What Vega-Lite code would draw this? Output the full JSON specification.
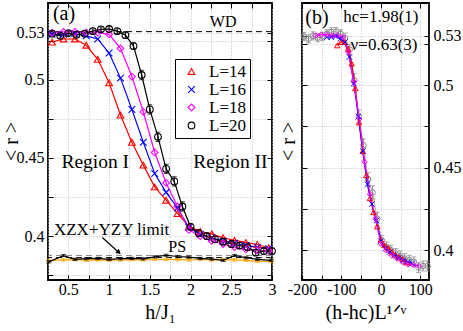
{
"$schema": "https://vega.github.io/schema/vega-lite/v6.json",
"background": "white",
"autosize": {"type": "none"},
"padding": {"left": 48, "top": 3, "right": 415, "bottom": 328},
"spacing": 30,
"bounds": "flush",
"config": {
  "font": "Liberation Serif",
  "view": {"stroke": "black", "strokeWidth": 1.8},
  "axis": {"domain": false, "labelFont": "Liberation Serif", "labelFontSize": 16, "labelColor": "black", "titleFont": "Liberation Serif", "titleFontWeight": "normal", "titleColor": "black", "titleFontSize": 20, "tickColor": "black", "tickSize": -5, "gridColor": "#bbbbbb", "gridDash": [1, 2], "labelFlush": false, "labelOverlap": false, "labelBound": false},
  "legend": {"labelFont": "Liberation Serif"},
  "text": {"font": "Liberation Serif", "color": "black"}
},
"datasets": {
  "series": [
    {"L":"L=14","h":0.30,"r":0.524},{"L":"L=14","h":0.44,"r":0.526},{"L":"L=14","h":0.58,"r":0.526},{"L":"L=14","h":0.72,"r":0.522},{"L":"L=14","h":0.86,"r":0.513},{"L":"L=14","h":1.00,"r":0.498},{"L":"L=14","h":1.14,"r":0.4774},{"L":"L=14","h":1.28,"r":0.460},{"L":"L=14","h":1.42,"r":0.4454},{"L":"L=14","h":1.56,"r":0.4315},{"L":"L=14","h":1.70,"r":0.423},{"L":"L=14","h":1.84,"r":0.4144},{"L":"L=14","h":1.98,"r":0.4063},{"L":"L=14","h":2.12,"r":0.403},{"L":"L=14","h":2.26,"r":0.4015},{"L":"L=14","h":2.40,"r":0.399},{"L":"L=14","h":2.54,"r":0.3973},{"L":"L=14","h":2.68,"r":0.396},{"L":"L=14","h":2.82,"r":0.3947},{"L":"L=14","h":2.96,"r":0.3926},
    {"L":"L=16","h":0.30,"r":0.529},{"L":"L=16","h":0.44,"r":0.529},{"L":"L=16","h":0.58,"r":0.5295},{"L":"L=16","h":0.72,"r":0.528},{"L":"L=16","h":0.86,"r":0.526},{"L":"L=16","h":1.00,"r":0.517},{"L":"L=16","h":1.14,"r":0.501},{"L":"L=16","h":1.28,"r":0.481},{"L":"L=16","h":1.42,"r":0.460},{"L":"L=16","h":1.56,"r":0.440},{"L":"L=16","h":1.70,"r":0.428},{"L":"L=16","h":1.84,"r":0.418},{"L":"L=16","h":1.98,"r":0.4055},{"L":"L=16","h":2.12,"r":0.401},{"L":"L=16","h":2.26,"r":0.399},{"L":"L=16","h":2.40,"r":0.397},{"L":"L=16","h":2.54,"r":0.3955},{"L":"L=16","h":2.68,"r":0.394},{"L":"L=16","h":2.82,"r":0.393},{"L":"L=16","h":2.96,"r":0.392},
    {"L":"L=18","h":0.30,"r":0.530},{"L":"L=18","h":0.44,"r":0.5305},{"L":"L=18","h":0.58,"r":0.5305},{"L":"L=18","h":0.72,"r":0.530},{"L":"L=18","h":0.86,"r":0.530},{"L":"L=18","h":1.00,"r":0.529},{"L":"L=18","h":1.14,"r":0.520},{"L":"L=18","h":1.28,"r":0.502},{"L":"L=18","h":1.42,"r":0.4795},{"L":"L=18","h":1.56,"r":0.4535},{"L":"L=18","h":1.70,"r":0.434},{"L":"L=18","h":1.84,"r":0.419},{"L":"L=18","h":1.98,"r":0.404},{"L":"L=18","h":2.12,"r":0.400},{"L":"L=18","h":2.26,"r":0.397},{"L":"L=18","h":2.40,"r":0.395},{"L":"L=18","h":2.54,"r":0.393},{"L":"L=18","h":2.68,"r":0.3915},{"L":"L=18","h":2.82,"r":0.391},{"L":"L=18","h":2.96,"r":0.3905},
    {"L":"L=20","h":0.3,"r":0.5294,"err":0.0015},{"L":"L=20","h":0.4,"r":0.528,"err":0.0015},{"L":"L=20","h":0.5,"r":0.5298,"err":0.0015},{"L":"L=20","h":0.6,"r":0.5287,"err":0.0015},{"L":"L=20","h":0.7,"r":0.5294,"err":0.0015},{"L":"L=20","h":0.8,"r":0.531,"err":0.0015},{"L":"L=20","h":0.9,"r":0.5322,"err":0.0015},{"L":"L=20","h":1.0,"r":0.5324,"err":0.0015},{"L":"L=20","h":1.1,"r":0.531,"err":0.0015},{"L":"L=20","h":1.2,"r":0.5285,"err":0.002},{"L":"L=20","h":1.3,"r":0.5215,"err":0.002},{"L":"L=20","h":1.4,"r":0.503,"err":0.003},{"L":"L=20","h":1.5,"r":0.481,"err":0.003},{"L":"L=20","h":1.6,"r":0.4635,"err":0.003},{"L":"L=20","h":1.7,"r":0.443,"err":0.003},{"L":"L=20","h":1.8,"r":0.435,"err":0.003},{"L":"L=20","h":1.9,"r":0.419,"err":0.003},{"L":"L=20","h":2.0,"r":0.406,"err":0.002},{"L":"L=20","h":2.1,"r":0.402,"err":0.002},{"L":"L=20","h":2.2,"r":0.400,"err":0.002},{"L":"L=20","h":2.3,"r":0.398,"err":0.002},{"L":"L=20","h":2.4,"r":0.3965,"err":0.002},{"L":"L=20","h":2.5,"r":0.395,"err":0.002},{"L":"L=20","h":2.6,"r":0.394,"err":0.002},{"L":"L=20","h":2.7,"r":0.393,"err":0.002},{"L":"L=20","h":2.8,"r":0.3895,"err":0.002},{"L":"L=20","h":2.9,"r":0.3905,"err":0.002},{"L":"L=20","h":3.0,"r":0.3905,"err":0.002}
  ],
  "bottom": [
    {"s":"limit","h":0.26,"r":0.3836,"err":0.0007},{"s":"limit","h":0.44,"r":0.3876,"err":0.0007},{"s":"limit","h":0.58,"r":0.3852,"err":0.0007},{"s":"limit","h":0.72,"r":0.3856,"err":0.0007},{"s":"limit","h":0.86,"r":0.3858,"err":0.0007},{"s":"limit","h":1.00,"r":0.3852,"err":0.0007},{"s":"limit","h":1.14,"r":0.3856,"err":0.0007},{"s":"limit","h":1.28,"r":0.3858,"err":0.0007},{"s":"limit","h":1.42,"r":0.3855,"err":0.0007},{"s":"limit","h":1.56,"r":0.3868,"err":0.0007},{"s":"limit","h":1.70,"r":0.3878,"err":0.0007},{"s":"limit","h":1.84,"r":0.3870,"err":0.0007},{"s":"limit","h":1.98,"r":0.3866,"err":0.0007},{"s":"limit","h":2.12,"r":0.3858,"err":0.0007},{"s":"limit","h":2.26,"r":0.3854,"err":0.0007},{"s":"limit","h":2.40,"r":0.3845,"err":0.0007},{"s":"limit","h":2.54,"r":0.3877,"err":0.0007},{"s":"limit","h":2.68,"r":0.3862,"err":0.0007},{"s":"limit","h":2.82,"r":0.3852,"err":0.0007},{"s":"limit","h":2.99,"r":0.3846,"err":0.0007},
    {"s":"other","h":0.26,"r":0.3843,"err":0.0008},{"s":"other","h":0.44,"r":0.3848,"err":0.0008},{"s":"other","h":0.58,"r":0.3850,"err":0.0008},{"s":"other","h":0.72,"r":0.3847,"err":0.0008},{"s":"other","h":0.86,"r":0.3849,"err":0.0008},{"s":"other","h":1.00,"r":0.3846,"err":0.0008},{"s":"other","h":1.14,"r":0.3848,"err":0.0008},{"s":"other","h":1.28,"r":0.3850,"err":0.0008},{"s":"other","h":1.42,"r":0.3849,"err":0.0008},{"s":"other","h":1.56,"r":0.3851,"err":0.0008},{"s":"other","h":1.70,"r":0.3852,"err":0.0008},{"s":"other","h":1.84,"r":0.3850,"err":0.0008},{"s":"other","h":1.98,"r":0.3849,"err":0.0008},{"s":"other","h":2.12,"r":0.3851,"err":0.0008},{"s":"other","h":2.26,"r":0.3848,"err":0.0008},{"s":"other","h":2.40,"r":0.3850,"err":0.0008},{"s":"other","h":2.54,"r":0.3849,"err":0.0008},{"s":"other","h":2.68,"r":0.3846,"err":0.0008},{"s":"other","h":2.82,"r":0.3840,"err":0.0008},{"s":"other","h":2.99,"r":0.3838,"err":0.0008}
  ],
  "refs": [
    {"name":"WD","r":0.5307},{"name":"XZX+YZY limit","r":0.3877},{"name":"PS","r":0.3863}
  ],
  "notesA": [
    {"role":"panel","text":"(a)","h":0.447,"r":0.5422},
    {"role":"note","text":"WD","h":2.40,"r":0.5367},
    {"role":"region","text":"Region I","h":0.83,"r":0.4475},
    {"role":"region","text":"Region II","h":2.49,"r":0.4475},
    {"role":"limit","text":"XZX+YZY limit","h":1.03,"r":0.4038},
    {"role":"note","text":"PS","h":1.836,"r":0.3932}
  ],
  "arrow": [{"h":0.917,"r":0.3992,"h2":1.12,"r2":0.3896}],
  "collapse": [
    {"L":"L=14","x":-110.8,"r":0.524},{"L":"L=14","x":-101.6,"r":0.526},{"L":"L=14","x":-92.4,"r":0.526},{"L":"L=14","x":-83.1,"r":0.522},{"L":"L=14","x":-73.9,"r":0.513},{"L":"L=14","x":-64.7,"r":0.498},{"L":"L=14","x":-55.4,"r":0.4774},{"L":"L=14","x":-46.2,"r":0.460},{"L":"L=14","x":-36.9,"r":0.4454},{"L":"L=14","x":-27.7,"r":0.4315},{"L":"L=14","x":-18.5,"r":0.423},{"L":"L=14","x":-9.2,"r":0.4144},{"L":"L=14","x":0,"r":0.4063},{"L":"L=14","x":9.2,"r":0.403},{"L":"L=14","x":18.5,"r":0.4015},{"L":"L=14","x":27.7,"r":0.399},{"L":"L=14","x":36.9,"r":0.3973},{"L":"L=14","x":46.2,"r":0.396},{"L":"L=14","x":55.4,"r":0.3947},{"L":"L=14","x":64.7,"r":0.3926},
    {"L":"L=16","x":-137.0,"r":0.529},{"L":"L=16","x":-125.6,"r":0.529},{"L":"L=16","x":-114.1,"r":0.5295},{"L":"L=16","x":-102.7,"r":0.528},{"L":"L=16","x":-91.3,"r":0.526},{"L":"L=16","x":-79.9,"r":0.517},{"L":"L=16","x":-68.5,"r":0.501},{"L":"L=16","x":-57.1,"r":0.481},{"L":"L=16","x":-45.7,"r":0.460},{"L":"L=16","x":-34.2,"r":0.440},{"L":"L=16","x":-22.8,"r":0.428},{"L":"L=16","x":-11.4,"r":0.418},{"L":"L=16","x":0,"r":0.4055},{"L":"L=16","x":11.4,"r":0.401},{"L":"L=16","x":22.8,"r":0.399},{"L":"L=16","x":34.2,"r":0.397},{"L":"L=16","x":45.7,"r":0.3955},{"L":"L=16","x":57.1,"r":0.394},{"L":"L=16","x":68.5,"r":0.393},{"L":"L=16","x":79.9,"r":0.392},
    {"L":"L=18","x":-165.1,"r":0.530},{"L":"L=18","x":-151.4,"r":0.5305},{"L":"L=18","x":-137.6,"r":0.5305},{"L":"L=18","x":-123.8,"r":0.530},{"L":"L=18","x":-110.1,"r":0.530},{"L":"L=18","x":-96.3,"r":0.529},{"L":"L=18","x":-82.6,"r":0.520},{"L":"L=18","x":-68.8,"r":0.502},{"L":"L=18","x":-55.0,"r":0.4795},{"L":"L=18","x":-41.3,"r":0.4535},{"L":"L=18","x":-27.5,"r":0.434},{"L":"L=18","x":-13.8,"r":0.419},{"L":"L=18","x":0,"r":0.404},{"L":"L=18","x":13.8,"r":0.400},{"L":"L=18","x":27.5,"r":0.397},{"L":"L=18","x":41.3,"r":0.395},{"L":"L=18","x":55.0,"r":0.393},{"L":"L=18","x":68.8,"r":0.3915},{"L":"L=18","x":82.6,"r":0.391},{"L":"L=18","x":96.3,"r":0.3905},
    {"L":"L=20","x":-195.2,"r":0.5294,"err":0.0025},{"L":"L=20","x":-183.5,"r":0.528,"err":0.0025},{"L":"L=20","x":-171.9,"r":0.5298,"err":0.0025},{"L":"L=20","x":-160.3,"r":0.5287,"err":0.0025},{"L":"L=20","x":-148.7,"r":0.5294,"err":0.0025},{"L":"L=20","x":-137.1,"r":0.531,"err":0.0025},{"L":"L=20","x":-125.5,"r":0.5322,"err":0.0025},{"L":"L=20","x":-113.8,"r":0.5324,"err":0.0025},{"L":"L=20","x":-102.2,"r":0.531,"err":0.0025},{"L":"L=20","x":-90.6,"r":0.5285,"err":0.003},{"L":"L=20","x":-79.0,"r":0.5215,"err":0.003},{"L":"L=20","x":-67.4,"r":0.503,"err":0.004},{"L":"L=20","x":-55.8,"r":0.481,"err":0.004},{"L":"L=20","x":-44.1,"r":0.4635,"err":0.004},{"L":"L=20","x":-32.5,"r":0.443,"err":0.004},{"L":"L=20","x":-20.9,"r":0.435,"err":0.004},{"L":"L=20","x":-9.3,"r":0.419,"err":0.004},{"L":"L=20","x":2.3,"r":0.406,"err":0.003},{"L":"L=20","x":13.9,"r":0.402,"err":0.003},{"L":"L=20","x":25.6,"r":0.400,"err":0.003},{"L":"L=20","x":37.2,"r":0.398,"err":0.003},{"L":"L=20","x":48.8,"r":0.3965,"err":0.003},{"L":"L=20","x":60.4,"r":0.395,"err":0.003},{"L":"L=20","x":72.0,"r":0.394,"err":0.003},{"L":"L=20","x":83.6,"r":0.393,"err":0.003},{"L":"L=20","x":95.3,"r":0.3895,"err":0.003},{"L":"L=20","x":106.9,"r":0.3905,"err":0.003},{"L":"L=20","x":118.5,"r":0.3905,"err":0.003}
  ],
  "notesB": [
    {"role":"panel","text":"(b)","x":-162,"r":0.5409},
    {"role":"note","text":"hc=1.98(1)","x":0,"r":0.541},
    {"role":"note","text":"ν=0.63(3)","x":8,"r":0.5242}
  ]
},
"resolve": {"scale": {"color": "independent", "shape": "independent"}},
"hconcat": [
  {
    "width": 224, "height": 277,
    "resolve": {"axis": {"x": "independent", "y": "independent"}},
    "layer": [
      {"data": {"name": "refs"}, "transform": [{"filter": "datum.name != 'XZX+YZY limit'"}], "mark": {"type": "rule", "color": "black", "strokeDash": [6, 4], "strokeWidth": 1}, "encoding": {"y": {"field": "r", "type": "quantitative", "axis": null}}},
      {"data": {"name": "refs"}, "transform": [{"filter": "datum.name == 'XZX+YZY limit'"}], "mark": {"type": "rule", "color": "#888888", "strokeDash": [6, 4], "strokeWidth": 1}, "encoding": {"y": {"field": "r", "type": "quantitative", "axis": null}}},
      {"data": {"name": "bottom"}, "transform": [{"filter": "datum.s == 'other'"}], "mark": {"type": "errorbar", "ticks": true, "color": "#ffa500"}, "encoding": {"x": {"field": "h", "type": "quantitative", "axis": null}, "y": {"field": "r", "type": "quantitative", "axis": null}, "yError": {"field": "err"}}},
      {"data": {"name": "bottom"}, "transform": [{"filter": "datum.s == 'other'"}], "mark": {"type": "line", "color": "#ffa500", "strokeWidth": 1.2}, "encoding": {"x": {"field": "h", "type": "quantitative", "axis": null}, "y": {"field": "r", "type": "quantitative", "axis": null}}},
      {"data": {"name": "bottom"}, "transform": [{"filter": "datum.s == 'limit'"}], "mark": {"type": "errorbar", "ticks": true, "color": "black"}, "encoding": {"x": {"field": "h", "type": "quantitative", "axis": null}, "y": {"field": "r", "type": "quantitative", "axis": null}, "yError": {"field": "err"}}},
      {"data": {"name": "bottom"}, "transform": [{"filter": "datum.s == 'limit'"}], "mark": {"type": "line", "color": "black", "strokeWidth": 1.2}, "encoding": {"x": {"field": "h", "type": "quantitative", "axis": null}, "y": {"field": "r", "type": "quantitative", "axis": null}}},
      {"data": {"name": "series"}, "mark": {"type": "line", "strokeWidth": 1.2}, "encoding": {
        "x": {"field": "h", "type": "quantitative", "scale": {"domain": [0.25, 3], "nice": false, "zero": false},
              "axis": {"orient": "bottom", "values": [0.25,0.5,0.75,1,1.25,1.5,1.75,2,2.25,2.5,2.75,3], "format": "~g", "labelExpr": "round(datum.value*100) % 50 == 0 ? datum.label : ''", "labelFont": "Liberation Serif", "title": "h/J₁", "grid": true, "labelPadding": 6, "titlePadding": 5}},
        "y": {"field": "r", "type": "quantitative", "scale": {"domain": [0.372, 0.549], "nice": false, "zero": false},
              "axis": {"orient": "left", "values": [0.375,0.4,0.425,0.45,0.475,0.5,0.525,0.53], "format": "~g", "labelExpr": "indexof([0.4,0.45,0.5,0.53], datum.value) >= 0 ? datum.label : ''", "labelFont": "Liberation Serif", "title": "< r >", "titleX": -37, "titleY": 138, "titleAngle": -90, "titleAlign": "center", "titleBaseline": "middle", "grid": true, "labelPadding": 9}},
        "color": {"field": "L", "type": "nominal", "scale": {"domain": ["L=14","L=16","L=18","L=20"], "range": ["#ff0000","#0000ff","#ff00ff","#000000"]}}
      }},
      {"data": {"name": "series"}, "transform": [{"filter": "datum.L == 'L=20'"}], "mark": {"type": "errorbar", "ticks": true, "color": "black"}, "encoding": {"x": {"field": "h", "type": "quantitative", "axis": null}, "y": {"field": "r", "type": "quantitative", "axis": null}, "yError": {"field": "err"}}},
      {"data": {"name": "series"}, "mark": {"type": "point", "filled": false, "strokeWidth": 1.1, "size": 45, "opacity": 1}, "encoding": {
        "x": {"field": "h", "type": "quantitative", "axis": null},
        "y": {"field": "r", "type": "quantitative", "axis": null},
        "color": {"field": "L", "type": "nominal", "scale": {"domain": ["L=14","L=16","L=18","L=20"], "range": ["#ff0000","#0000ff","#ff00ff","#000000"]},
                  "legend": {"title": null, "orient": "none", "legendX": 127, "legendY": 56, "strokeColor": "black", "fillColor": "white", "padding": 4, "labelFontSize": 17, "labelFont": "Liberation Serif", "labelColor": "black", "symbolSize": 45, "symbolStrokeWidth": 1.1, "symbolOffset": 4, "labelOffset": 9, "rowPadding": 0, "cornerRadius": 0}},
        "shape": {"field": "L", "type": "nominal", "scale": {"domain": ["L=14","L=16","L=18","L=20"], "range": ["triangle-up","M-1,-1L1,1M-1,1L1,-1","diamond","circle"]}}
      }},
      {"data": {"name": "notesA"}, "transform": [{"filter": "datum.role == 'region'"}], "mark": {"type": "text", "fontSize": 19.5, "baseline": "middle", "font": "Liberation Serif"}, "encoding": {
        "x": {"field": "h", "type": "quantitative", "axis": {"orient": "top", "values": [0.25,0.5,0.75,1,1.25,1.5,1.75,2,2.25,2.5,2.75,3], "labels": false, "title": null, "grid": false}},
        "y": {"field": "r", "type": "quantitative", "axis": {"orient": "right", "values": [0.375,0.4,0.425,0.45,0.475,0.5,0.525,0.53], "labels": false, "title": null, "grid": false}},
        "text": {"field": "text"}}},
      {"data": {"name": "notesA"}, "transform": [{"filter": "datum.role == 'panel'"}], "mark": {"type": "text", "fontSize": 20, "baseline": "middle", "font": "Liberation Serif"}, "encoding": {"x": {"field": "h", "type": "quantitative", "axis": null}, "y": {"field": "r", "type": "quantitative", "axis": null}, "text": {"field": "text"}}},
      {"data": {"name": "notesA"}, "transform": [{"filter": "datum.role == 'note'"}], "mark": {"type": "text", "fontSize": 16, "baseline": "middle", "font": "Liberation Serif"}, "encoding": {"x": {"field": "h", "type": "quantitative", "axis": null}, "y": {"field": "r", "type": "quantitative", "axis": null}, "text": {"field": "text"}}},
      {"data": {"name": "notesA"}, "transform": [{"filter": "datum.role == 'limit'"}], "mark": {"type": "text", "fontSize": 17, "baseline": "middle", "font": "Liberation Serif"}, "encoding": {"x": {"field": "h", "type": "quantitative", "axis": null}, "y": {"field": "r", "type": "quantitative", "axis": null}, "text": {"field": "text"}}},
      {"data": {"name": "arrow"}, "mark": {"type": "rule", "color": "black", "strokeWidth": 1.2}, "encoding": {"x": {"field": "h", "type": "quantitative", "axis": null}, "y": {"field": "r", "type": "quantitative", "axis": null}, "x2": {"field": "h2"}, "y2": {"field": "r2"}}},
      {"data": {"name": "arrow"}, "mark": {"type": "point", "shape": "triangle-up", "filled": true, "color": "black", "size": 30, "angle": 132, "opacity": 1}, "encoding": {"x": {"field": "h2", "type": "quantitative", "axis": null}, "y": {"field": "r2", "type": "quantitative", "axis": null}}}
    ]
  },
  {
    "width": 127, "height": 277,
    "resolve": {"axis": {"x": "independent", "y": "independent"}},
    "layer": [
      {"data": {"name": "collapse"}, "transform": [{"filter": "datum.L == 'L=20'"}], "mark": {"type": "errorbar", "ticks": true, "color": "#888888"}, "encoding": {"x": {"field": "x", "type": "quantitative", "axis": null}, "y": {"field": "r", "type": "quantitative", "axis": null}, "yError": {"field": "err"}}},
      {"data": {"name": "collapse"}, "transform": [{"filter": "datum.L == 'L=20'"}], "mark": {"type": "line", "color": "#999999", "strokeWidth": 0.8}, "encoding": {"x": {"field": "x", "type": "quantitative", "axis": null}, "y": {"field": "r", "type": "quantitative", "axis": null}}},
      {"data": {"name": "collapse"}, "transform": [{"filter": "datum.L == 'L=20'"}], "mark": {"type": "point", "shape": "circle", "filled": false, "color": "#888888", "size": 30, "strokeWidth": 1, "opacity": 1}, "encoding": {"x": {"field": "x", "type": "quantitative", "axis": null}, "y": {"field": "r", "type": "quantitative", "axis": null}}},
      {"data": {"name": "collapse"}, "transform": [{"filter": "datum.L != 'L=20'"}], "mark": {"type": "line", "strokeWidth": 1.2}, "encoding": {
        "x": {"field": "x", "type": "quantitative", "scale": {"domain": [-200, 122], "nice": false, "zero": false},
              "axis": {"orient": "bottom", "values": [-200,-150,-100,-50,0,50,100], "labelExpr": "datum.value % 100 == 0 ? ('' + datum.value) : ''", "labelFont": "Liberation Serif", "title": "(h-hc)L¹ᐟᵛ", "grid": true, "labelPadding": 6, "titlePadding": 5}},
        "y": {"field": "r", "type": "quantitative", "scale": {"domain": [0.382, 0.5497], "nice": false, "zero": false},
              "axis": {"orient": "left", "values": [0.375,0.4,0.425,0.45,0.475,0.5,0.525,0.53], "labels": false, "title": "< r >", "titleX": -14, "titleY": 138, "titleAngle": -90, "titleAlign": "center", "titleBaseline": "middle", "grid": true}},
        "color": {"field": "L", "type": "nominal", "scale": {"domain": ["L=14","L=16","L=18"], "range": ["#ff0000","#0000ff","#ff00ff"]}, "legend": null}
      }},
      {"data": {"name": "collapse"}, "transform": [{"filter": "datum.L != 'L=20'"}], "mark": {"type": "point", "filled": false, "strokeWidth": 1, "size": 30, "opacity": 1}, "encoding": {
        "x": {"field": "x", "type": "quantitative", "axis": null},
        "y": {"field": "r", "type": "quantitative", "axis": null},
        "color": {"field": "L", "type": "nominal", "scale": {"domain": ["L=14","L=16","L=18"], "range": ["#ff0000","#0000ff","#ff00ff"]}, "legend": null},
        "shape": {"field": "L", "type": "nominal", "scale": {"domain": ["L=14","L=16","L=18"], "range": ["triangle-up","M-1,-1L1,1M-1,1L1,-1","diamond"]}, "legend": null}
      }},
      {"data": {"name": "notesB"}, "transform": [{"filter": "datum.role == 'panel'"}], "mark": {"type": "text", "fontSize": 20, "baseline": "middle", "font": "Liberation Serif"}, "encoding": {
        "x": {"field": "x", "type": "quantitative", "axis": {"orient": "top", "values": [-200,-150,-100,-50,0,50,100], "labels": false, "title": null, "grid": false}},
        "y": {"field": "r", "type": "quantitative", "axis": {"orient": "right", "values": [0.375,0.4,0.425,0.45,0.475,0.5,0.525,0.53], "format": "~g", "labelExpr": "indexof([0.4,0.45,0.5,0.53], datum.value) >= 0 ? datum.label : ''", "labelFont": "Liberation Serif", "title": null, "grid": false, "labelPadding": 9}},
        "text": {"field": "text"}}},
      {"data": {"name": "notesB"}, "transform": [{"filter": "datum.role == 'note'"}], "mark": {"type": "text", "fontSize": 17, "baseline": "middle", "font": "Liberation Serif"}, "encoding": {"x": {"field": "x", "type": "quantitative", "axis": null}, "y": {"field": "r", "type": "quantitative", "axis": null}, "text": {"field": "text"}}}
    ]
  }
]
}
